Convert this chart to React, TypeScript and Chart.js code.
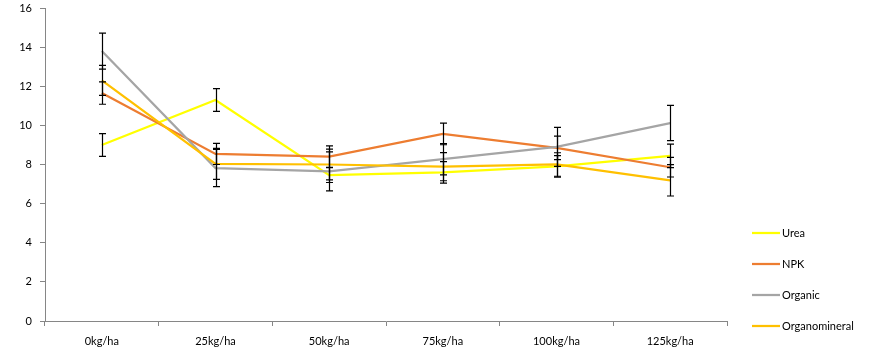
import React, { useEffect, useRef } from "react";
import { Chart, registerables } from "chart.js";

Chart.register(...registerables);

const categories = ["0kg/ha", "25kg/ha", "50kg/ha", "75kg/ha", "100kg/ha", "125kg/ha"];
const seriesNames = ["Urea", "NPK", "Organic", "Organomineral"];
const seriesColors = ["#FFFF00", "#ED7D31", "#A5A5A5", "#FFC000"];

const urea = [9.0, 11.3, 7.46, 7.6, 7.9, 8.44];
const npk = [11.65, 8.54, 8.4, 9.56, 8.85, 7.86];
const organic = [13.8, 7.82, 7.65, 8.27, 8.9, 10.12];
const organomineral = [12.3, 8.03, 8.0, 7.89, 8.0, 7.19];

const ureaErr = [0.58, 0.58, 0.38, 0.55, 0.55, 0.6];
const npkErr = [0.57, 0.54, 0.55, 0.55, 0.6, 0.5];
const organicErr = [0.92, 0.95, 1.0, 0.8, 1.0, 0.9];
const organomineralErr = [0.77, 0.79, 0.79, 0.72, 0.6, 0.8];

const yTicks = [0, 2, 4, 6, 8, 10, 12, 14, 16];

const FONT = "Lato";

export default function App() {
  const ref = useRef<HTMLCanvasElement | null>(null);

  useEffect(() => {
    if (!ref.current) return;
    const values = [urea, npk, organic, organomineral];
    const errs = [ureaErr, npkErr, organicErr, organomineralErr];

    const errorBars = {
      id: "errorBars",
      afterDatasetsDraw(chart: any) {
        const ctx = chart.ctx;
        const x = chart.scales.x;
        const y = chart.scales.y;
        ctx.save();
        ctx.strokeStyle = "#000";
        ctx.lineWidth = 1.2;
        values.forEach((vals, si) => {
          vals.forEach((v, i) => {
            const e = errs[si][i];
            const px = Math.round(x.getPixelForValue(i)) + 0.5;
            const top = y.getPixelForValue(v + e);
            const bot = y.getPixelForValue(v - e);
            ctx.beginPath();
            ctx.moveTo(px, top);
            ctx.lineTo(px, bot);
            ctx.moveTo(px - 3.5, top);
            ctx.lineTo(px + 3.5, top);
            ctx.moveTo(px - 3.5, bot);
            ctx.lineTo(px + 3.5, bot);
            ctx.stroke();
          });
        });
        ctx.restore();
      },
    };

    const customLegend = {
      id: "customLegend",
      afterDraw(chart: any) {
        const ctx = chart.ctx;
        ctx.save();
        ctx.font = `11px ${FONT}`;
        ctx.textBaseline = "middle";
        ctx.textAlign = "left";
        seriesNames.forEach((name, i) => {
          const yy = 233 + i * 31;
          ctx.strokeStyle = seriesColors[i];
          ctx.lineWidth = 2.25;
          ctx.beginPath();
          ctx.moveTo(752, yy);
          ctx.lineTo(780, yy);
          ctx.stroke();
          ctx.fillStyle = "#000";
          ctx.fillText(name, 782, yy);
        });
        ctx.restore();
      },
    };

    const chart = new Chart(ref.current, {
      type: "line",
      data: {
        labels: categories,
        datasets: values.map((vals, i) => ({
          label: seriesNames[i],
          data: vals,
          borderColor: seriesColors[i],
          backgroundColor: seriesColors[i],
          borderWidth: 2.25,
          pointRadius: 0,
          tension: 0,
          fill: false,
          order: 3 - i,
        })),
      },
      options: {
        animation: false,
        responsive: false,
        maintainAspectRatio: false,
        devicePixelRatio: 1,
        layout: { padding: { left: 0, right: 143, top: 8, bottom: 0 } },
        plugins: {
          legend: { display: false },
          tooltip: { enabled: false },
        },
        scales: {
          x: {
            offset: true,
            grid: {
              offset: true,
              drawOnChartArea: false,
              drawTicks: true,
              tickLength: 5,
              color: "#868686",
            },
            border: { display: true, color: "#868686", width: 1 },
            ticks: {
              font: { family: FONT, size: 11 },
              color: "#000",
              padding: 9,
              maxRotation: 0,
            },
            afterFit: (s: any) => {
              s.height = 31;
              s.paddingLeft = 0;
              s.paddingRight = 0;
            },
          },
          y: {
            min: 0,
            max: 16,
            afterBuildTicks: (s: any) => {
              s.ticks = yTicks.map((v) => ({ value: v }));
            },
            grid: {
              drawOnChartArea: false,
              drawTicks: true,
              tickLength: 5,
              color: "#868686",
            },
            border: { display: true, color: "#868686", width: 1 },
            ticks: {
              font: { family: FONT, size: 11 },
              color: "#000",
              padding: 8,
            },
            afterFit: (s: any) => {
              s.width = 45;
              s.paddingTop = 0;
              s.paddingBottom = 0;
            },
          },
        },
      },
      plugins: [errorBars, customLegend],
    });
    return () => chart.destroy();
  }, []);

  return (
    <div style={{ position: "fixed", left: 0, top: 0, width: 870, height: 352, background: "#fff" }}>
      <canvas ref={ref} width={870} height={352} style={{ width: 870, height: 352 }} />
    </div>
  );
}
